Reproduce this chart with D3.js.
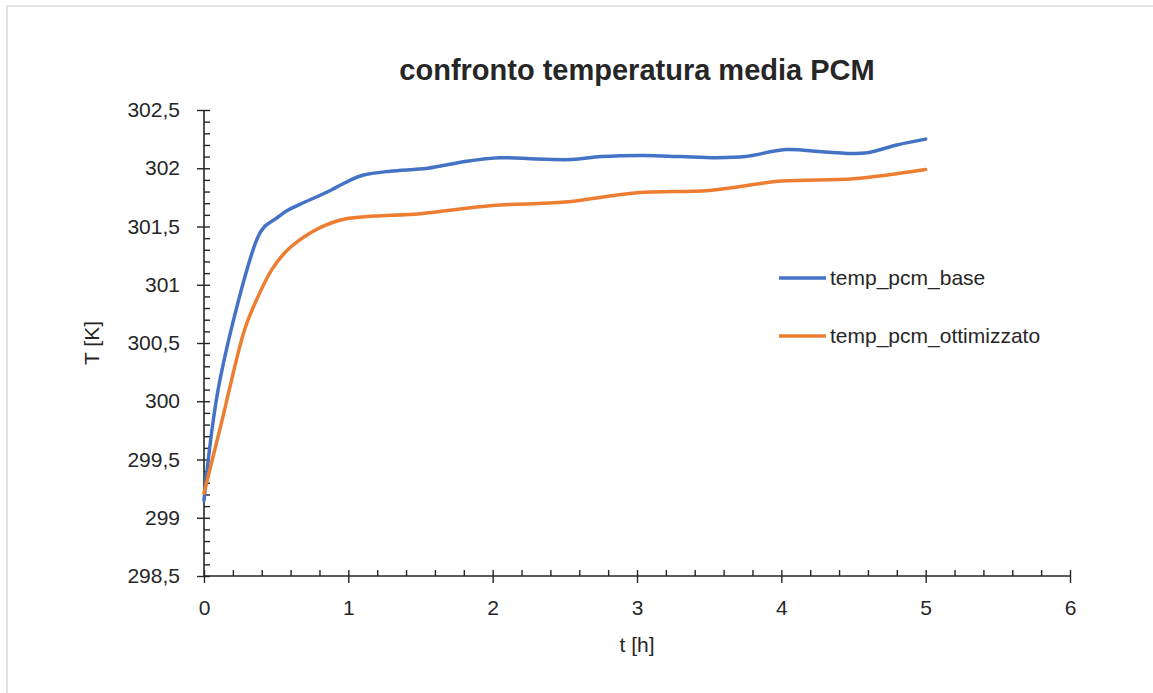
<!DOCTYPE html>
<html>
<head>
<meta charset="utf-8">
<script src="https://cdn.jsdelivr.net/npm/d3@7"></script>
<style>
  body { margin: 0; background: #fff; }
  svg text { font-family: "Liberation Sans", Arial, sans-serif; fill: #262626; }
</style>
</head>
<body>
<script>
// data
var baseT = [0, 0.11, 0.37, 0.42, 0.5, 0.58, 0.7, 0.86, 1.0, 1.1, 1.29, 1.55, 1.82, 2.05, 2.3, 2.55, 2.75, 3.05, 3.3, 3.55, 3.75, 4.03, 4.3, 4.58, 4.8, 5.0];
var baseK = [299.15, 300.18, 301.4, 301.5, 301.57, 301.64, 301.71, 301.8, 301.89, 301.94, 301.975, 302.0, 302.06, 302.09, 302.08, 302.075, 302.1, 302.11, 302.1, 302.09, 302.1, 302.16, 302.14, 302.13, 302.2, 302.25];
var optT = [0, 0.12, 0.28, 0.36, 0.47, 0.58, 0.75, 0.88, 1.0, 1.18, 1.5, 2.0, 2.5, 3.0, 3.5, 4.0, 4.5, 5.0];
var optK = [299.21, 299.81, 300.61, 300.86, 301.13, 301.3, 301.455, 301.53, 301.57, 301.59, 301.61, 301.68, 301.71, 301.79, 301.81, 301.89, 301.91, 301.99];
var seriesNames = ["temp_pcm_base", "temp_pcm_ottimizzato"];
var xTicks = [0, 1, 2, 3, 4, 5, 6];
var yTicks = [298.5, 299, 299.5, 300, 300.5, 301, 301.5, 302, 302.5];
var title = "confronto temperatura media PCM";

(function(){
  var width = 1153, height = 693;
  var colors = ["#4472C4", "#ED7D31"];
  var fmt = function(v){ return String(v).replace(".", ","); };

  var svg = d3.select("body").append("svg")
      .attr("width", width)
      .attr("height", height);

  svg.append("rect")
      .attr("x", 7).attr("y", 6)
      .attr("width", 1170).attr("height", 720)
      .attr("fill", "#fff")
      .attr("stroke", "#d9d9d9")
      .attr("stroke-width", 1.5);

  var x = d3.scaleLinear().domain([0, 6]).range([204, 1070]);
  var y = d3.scaleLinear().domain([298.5, 302.5]).range([576, 110]);

  var xMinor = d3.range(0, 6.001, 0.2).map(function(d){ return Math.round(d * 10) / 10; })
      .filter(function(d){ return xTicks.indexOf(d) < 0; });
  var yMinor = d3.range(298.5, 302.501, 0.1).map(function(d){ return Math.round(d * 10) / 10; })
      .filter(function(d){ return yTicks.indexOf(d) < 0; });

  function styleAxis(g){
    g.select(".domain").remove();
    g.selectAll("line").attr("stroke", "#262626").attr("stroke-width", 1.4);
    g.selectAll("text").style("font-size", "21px").attr("fill", "#262626");
  }

  // y axis
  svg.append("g").attr("transform", "translate(204,0)")
      .call(d3.axisLeft(y).tickValues(yTicks).tickSize(7).tickPadding(17).tickFormat(fmt))
      .call(styleAxis);
  svg.append("g").attr("transform", "translate(204,0)")
      .call(d3.axisRight(y).tickValues(yTicks.concat(yMinor)).tickSize(6).tickFormat(""))
      .call(styleAxis);

  // x axis
  svg.append("g").attr("transform", "translate(0,576)")
      .call(d3.axisBottom(x).tickValues(xTicks).tickSize(7).tickPadding(17).tickFormat(fmt))
      .call(styleAxis);
  svg.append("g").attr("transform", "translate(0,576)")
      .call(d3.axisTop(x).tickValues(xTicks.concat(xMinor)).tickSize(6).tickFormat(""))
      .call(styleAxis);

  svg.append("line")
      .attr("x1", 204).attr("x2", 204).attr("y1", 110).attr("y2", 576)
      .attr("stroke", "#262626").attr("stroke-width", 1.6);
  svg.append("line")
      .attr("x1", 204).attr("x2", 1070).attr("y1", 576).attr("y2", 576)
      .attr("stroke", "#262626").attr("stroke-width", 1.6);

  var line = d3.line()
      .x(function(d){ return x(d[0]); })
      .y(function(d){ return y(d[1]); })
      .curve(d3.curveCatmullRom.alpha(0.5));

  var series = [d3.zip(baseT, baseK), d3.zip(optT, optK)];
  series.forEach(function(s, i){
    svg.append("path")
        .attr("d", line(s))
        .attr("fill", "none")
        .attr("stroke", colors[i])
        .attr("stroke-width", 3.5)
        .attr("stroke-linejoin", "round")
        .attr("stroke-linecap", "round");
  });

  // legend
  var leg = svg.append("g");
  seriesNames.forEach(function(name, i){
    var ly = 278 + i * 58;
    leg.append("line")
        .attr("x1", 779).attr("x2", 826).attr("y1", ly).attr("y2", ly)
        .attr("stroke", colors[i]).attr("stroke-width", 3.5);
    leg.append("text")
        .attr("x", 830).attr("y", ly)
        .attr("dy", "0.35em")
        .style("font-size", "21px")
        .text(name);
  });

  svg.append("text")
      .attr("x", 637).attr("y", 80)
      .attr("text-anchor", "middle")
      .style("font-size", "29px")
      .style("font-weight", "bold")
      .attr("fill", "#000")
      .text(title);

  svg.append("text")
      .attr("x", 637).attr("y", 652)
      .attr("text-anchor", "middle")
      .style("font-size", "21px")
      .text("t [h]");

  svg.append("text")
      .attr("transform", "translate(99,343) rotate(-90)")
      .attr("text-anchor", "middle")
      .style("font-size", "21px")
      .text("T [K]");
})();
</script>
</body>
</html>
